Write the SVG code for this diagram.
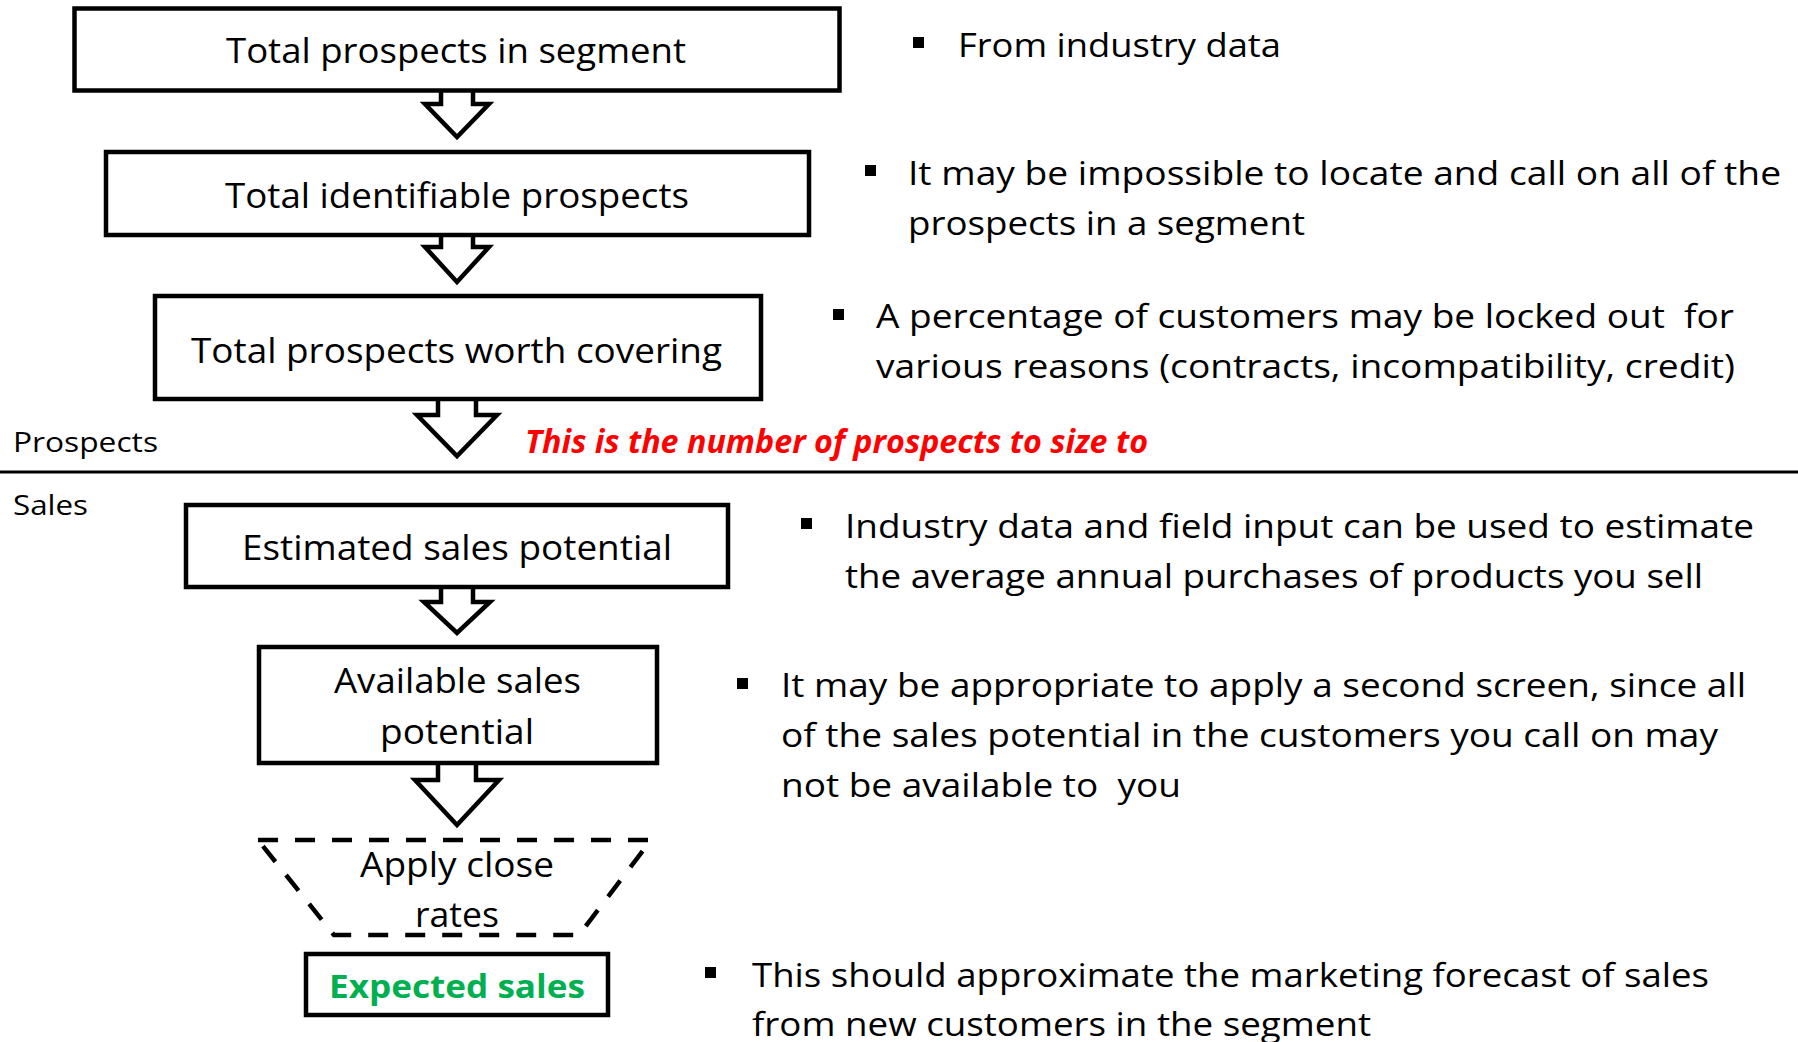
<svg xmlns="http://www.w3.org/2000/svg" width="1798" height="1042" viewBox="0 0 1798 1042">
  <style>
    .box { fill: #ffffff; stroke: #000000; stroke-width: 4.5; }
    .arrow { fill: #ffffff; stroke: #000000; stroke-width: 4.5; stroke-linejoin: miter; }
    .dash { fill: none; stroke: #000000; stroke-width: 4.5; stroke-dasharray: 20 17; }
    .t { font-family: "Open Sans", "Noto Sans", "Liberation Sans", sans-serif; fill: #000000; white-space: pre; }
    .node { font-size: 35px; }
    .note { font-size: 33px; }
    .side { font-size: 28px; }
    .red { fill: #ff0000; font-size: 32px; font-weight: bold; font-style: italic; }
    .green { fill: #00b050; font-size: 32px; font-weight: bold; }
    .bul { fill: #000000; }
  </style>
  <rect width="1798" height="1042" fill="#ffffff"/>

  <!-- block arrows between the stages -->
  <g id="connectors">
    <path class="arrow" d="M441,90 L441,104 L425,104 L457,137 L489,104 L473,104 L473,90"/>
    <path class="arrow" d="M441,235 L441,247 L425,247 L457,282 L489,247 L473,247 L473,235"/>
    <path class="arrow" d="M438,399 L438,415 L417,415 L457,456 L497,415 L476,415 L476,399"/>
    <path class="arrow" d="M441,587 L441,602 L424,602 L457,633 L490,602 L473,602 L473,587"/>
    <path class="arrow" d="M438,763 L438,780 L415,780 L457,825 L499,780 L476,780 L476,763"/>
  </g>

  <!-- divider between the prospects and sales halves -->
  <line x1="0" y1="472" x2="1798" y2="472" stroke="#000000" stroke-width="3"/>
  <text class="t side" x="13" y="452" textLength="145" lengthAdjust="spacingAndGlyphs">Prospects</text>
  <text class="t side" x="13" y="515" textLength="75" lengthAdjust="spacingAndGlyphs">Sales</text>
  <text class="t red" x="525" y="453" textLength="623" lengthAdjust="spacingAndGlyphs">This is the number of prospects to size to</text>

  <!-- funnel stages -->
  <g id="total-prospects">
    <rect class="box" x="74.5" y="8.5" width="765" height="82"/>
    <text class="t node" x="226" y="63" textLength="460" lengthAdjust="spacingAndGlyphs">Total prospects in segment</text>
  </g>
  <g id="identifiable-prospects">
    <rect class="box" x="106" y="152" width="703" height="83"/>
    <text class="t node" x="225" y="208" textLength="464" lengthAdjust="spacingAndGlyphs">Total identifiable prospects</text>
  </g>
  <g id="prospects-worth-covering">
    <rect class="box" x="155" y="296" width="606" height="103"/>
    <text class="t node" x="191" y="363" textLength="531" lengthAdjust="spacingAndGlyphs">Total prospects worth covering</text>
  </g>
  <g id="estimated-sales">
    <rect class="box" x="186" y="505" width="542" height="82"/>
    <text class="t node" x="242" y="560" textLength="430" lengthAdjust="spacingAndGlyphs">Estimated sales potential</text>
  </g>
  <g id="available-sales">
    <rect class="box" x="259" y="647" width="398" height="116"/>
    <text class="t node" x="334" y="693" textLength="247" lengthAdjust="spacingAndGlyphs">Available sales</text>
    <text class="t node" x="380" y="744" textLength="154" lengthAdjust="spacingAndGlyphs">potential</text>
  </g>
  <g id="close-rates">
    <path class="dash" d="M258,840 L651,840 L579,935 L334,935 Z"/>
    <text class="t node" x="360" y="877" textLength="194" lengthAdjust="spacingAndGlyphs">Apply close</text>
    <text class="t node" x="415" y="927" textLength="84" lengthAdjust="spacingAndGlyphs">rates</text>
  </g>
  <g id="expected-sales">
    <rect class="box" x="306" y="954" width="302" height="61"/>
    <text class="t green" x="329" y="998" textLength="256" lengthAdjust="spacingAndGlyphs">Expected sales</text>
  </g>

  <!-- explanatory bullet notes -->
  <g id="note-industry">
    <rect class="bul" x="913" y="37" width="11" height="11"/>
    <text class="t note" x="958" y="57" textLength="323" lengthAdjust="spacingAndGlyphs">From industry data</text>
  </g>
  <g id="note-identifiable">
    <rect class="bul" x="865" y="165" width="11" height="11"/>
    <text class="t note" x="908" y="185" textLength="873" lengthAdjust="spacingAndGlyphs">It may be impossible to locate and call on all of the</text>
    <text class="t note" x="908" y="235" textLength="397" lengthAdjust="spacingAndGlyphs">prospects in a segment</text>
  </g>
  <g id="note-locked-out">
    <rect class="bul" x="833" y="309" width="11" height="11"/>
    <text class="t note" x="876" y="328" textLength="858" lengthAdjust="spacingAndGlyphs">A percentage of customers may be locked out  for</text>
    <text class="t note" x="876" y="378" textLength="859" lengthAdjust="spacingAndGlyphs">various reasons (contracts, incompatibility, credit)</text>
  </g>
  <g id="note-estimate">
    <rect class="bul" x="801" y="518" width="11" height="11"/>
    <text class="t note" x="845" y="538" textLength="909" lengthAdjust="spacingAndGlyphs">Industry data and field input can be used to estimate</text>
    <text class="t note" x="845" y="588" textLength="858" lengthAdjust="spacingAndGlyphs">the average annual purchases of products you sell</text>
  </g>
  <g id="note-second-screen">
    <rect class="bul" x="737" y="678" width="11" height="11"/>
    <text class="t note" x="781" y="697" textLength="965" lengthAdjust="spacingAndGlyphs">It may be appropriate to apply a second screen, since all</text>
    <text class="t note" x="781" y="747" textLength="937" lengthAdjust="spacingAndGlyphs">of the sales potential in the customers you call on may</text>
    <text class="t note" x="781" y="797" textLength="400" lengthAdjust="spacingAndGlyphs">not be available to  you</text>
  </g>
  <g id="note-forecast">
    <rect class="bul" x="705" y="967" width="11" height="11"/>
    <text class="t note" x="752" y="987" textLength="957" lengthAdjust="spacingAndGlyphs">This should approximate the marketing forecast of sales</text>
    <text class="t note" x="752" y="1036" textLength="619" lengthAdjust="spacingAndGlyphs">from new customers in the segment</text>
  </g>
</svg>
